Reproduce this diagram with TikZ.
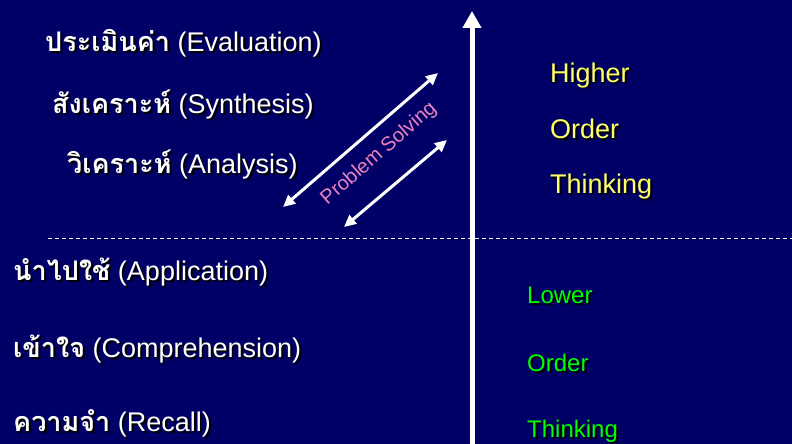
\documentclass[tikz,border=0pt]{standalone}
\usepackage{fontspec}
\setmainfont{Liberation Sans}
\newfontfamily\thaifont[Script=Thai]{Loma}
\usetikzlibrary{arrows.meta}
\definecolor{bg}{RGB}{0,0,102}
\definecolor{hiyellow}{RGB}{255,255,102}
\definecolor{logreen}{RGB}{0,255,0}
\definecolor{pspink}{RGB}{235,130,190}
\newcommand\shadowtext[5]{%
  \node[#4, text=black, xshift=2pt, yshift=-2pt] at (#2,#3) {#5};
  \node[#4] (#1) at (#2,#3) {#5};
}
\newcommand\thaiword[1]{{\thaifont\bfseries #1}}
\tikzset{
  level/.style={text=white, anchor=base west, inner sep=0pt, font=\fontsize{27}{30}\selectfont},
  higher/.style={text=hiyellow, anchor=base west, inner sep=0pt, font=\fontsize{27}{30}\selectfont},
  lower/.style={text=logreen, anchor=base west, inner sep=0pt, font=\fontsize{24}{28}\selectfont},
  twoway/.style={white, line width=3pt, {Triangle[width=11pt,length=12pt]}-{Triangle[width=11pt,length=12pt]}},
}
\begin{document}
\begin{tikzpicture}[x=1pt,y=-1pt]
\fill[bg] (0,0) rectangle (792,444);
\useasboundingbox (0,0) rectangle (792,444);
% levels
\shadowtext{eval}{45}{52}{level}{\thaiword{ประเมินค่า} (Evaluation)}
\shadowtext{synth}{52}{113}{level}{\thaiword{สังเคราะห์} (Synthesis)}
\shadowtext{anal}{67}{173}{level}{\thaiword{วิเคราะห์} (Analysis)}
\shadowtext{appl}{13}{280}{level}{\thaiword{นำไปใช้} (Application)}
\shadowtext{comp}{13}{357}{level}{\thaiword{เข้าใจ} (Comprehension)}
\shadowtext{recall}{13}{431}{level}{\thaiword{ความจำ} (Recall)}
% right labels
\shadowtext{h1}{550}{82}{higher}{Higher}
\shadowtext{h2}{550}{138}{higher}{Order}
\shadowtext{h3}{550}{193}{higher}{Thinking}
\shadowtext{l1}{527}{303}{lower}{Lower}
\shadowtext{l2}{527}{371}{lower}{Order}
\shadowtext{l3}{527}{437}{lower}{Thinking}
% dashed divider
\coordinate (dashL) at (48,238);
\coordinate (dashR) at (792,238);
\draw[white, line width=1pt, dash pattern=on 4pt off 3pt] (dashL) -- (dashR);
% vertical axis
\coordinate (axisB) at (472,444);
\coordinate (axisT) at (472,11);
\draw[white, line width=5pt, -{Triangle[width=18pt,length=17pt]}] (axisB) -- (axisT);
% problem solving arrows
\coordinate (ps1a) at (283,207);
\coordinate (ps1b) at (438,73);
\coordinate (ps2a) at (344,227);
\coordinate (ps2b) at (447,140);
\draw[twoway] (ps1a) -- (ps1b);
\draw[twoway] (ps2a) -- (ps2b);
\node[text=pspink, rotate=41, font=\fontsize{20}{24}\selectfont, inner sep=0pt] (ps) at (379,154) {Problem Solving};
\end{tikzpicture}
\end{document}
